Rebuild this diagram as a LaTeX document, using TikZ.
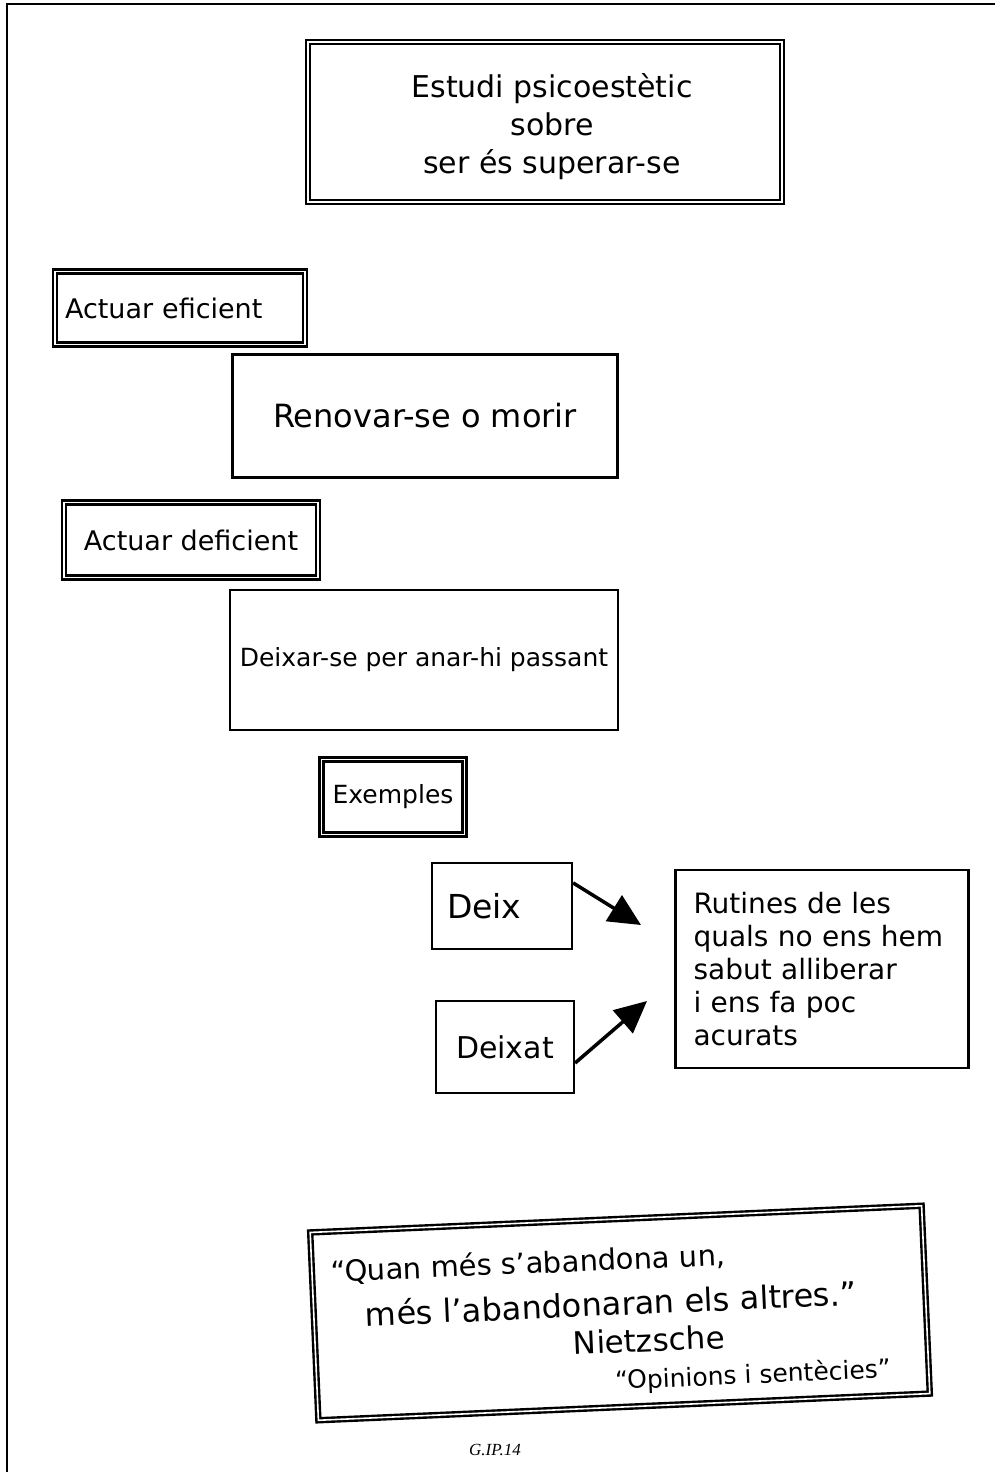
\documentclass[tikz,border=0pt]{standalone}
\usepackage{fontspec}
\setmainfont{DejaVu Sans}
\newfontfamily\serifit{Liberation Serif}
\usetikzlibrary{arrows.meta}
\begin{document}
\begin{tikzpicture}[x=1pt,y=-1pt,
  thickbox/.style={draw, line width=2.4pt, double, double distance=1.6pt, inner sep=0pt},
  thinbox/.style={draw, line width=2.2pt, inner sep=0pt},
  hand/.style={-{Triangle[length=32pt,width=30pt]}, line width=3.5pt},
  txt/.style={inner sep=0pt}
]
\useasboundingbox (0,0) rectangle (995,1472);
\coordinate (pgtop) at (995,4);
\coordinate (pgcorner) at (7,4);
\coordinate (pgbottom) at (7,1472);
\draw[line width=2pt] (pgtop) -- (pgcorner) -- (pgbottom);

% title
\node[thickbox, minimum width=474pt, minimum height=160pt] (title) at (545,122) {};
\node[txt, align=center, font=\fontsize{30}{38}\selectfont] (titletext) at (552,127)
      {Estudi psicoestètic\\sobre\\ser és superar-se};

% Actuar eficient
\node[thickbox, minimum width=250pt, minimum height=73pt, text width=230pt,
      inner xsep=10pt, align=left, font=\fontsize{27}{32}\selectfont] (eficient) at (180,308)
      {Actuar eficient};

% Renovar-se o morir
\node[thinbox, minimum width=385pt, minimum height=123pt,
      font=\fontsize{32}{38}\selectfont] (renovar) at (425,416)
      {Renovar-se o morir};

% Actuar deficient
\node[thickbox, minimum width=254pt, minimum height=75pt,
      font=\fontsize{27}{32}\selectfont] (deficient) at (191,540)
      {Actuar deficient};

% Deixar-se
\node[thinbox, minimum width=388pt, minimum height=140pt,
      font=\fontsize{25}{30}\selectfont] (deixarse) at (424,660)
      {Deixar-se per anar-hi passant};

% Exemples
\node[thickbox, minimum width=143pt, minimum height=75pt,
      font=\fontsize{25}{30}\selectfont] (exemples) at (393,797)
      {Exemples};

% Deix / Deixat
\node[thinbox, minimum width=140pt, minimum height=86pt, text width=110pt,
      inner xsep=15pt, align=left, font=\fontsize{33}{38}\selectfont] (deix) at (502,906)
      {Deix};
\node[thinbox, minimum width=138pt, minimum height=92pt,
      font=\fontsize{30}{36}\selectfont] (deixat) at (505,1047)
      {Deixat};

% Rutines
\node[thinbox, minimum width=293pt, minimum height=198pt, text width=257pt,
      inner xsep=18pt, align=left, font=\fontsize{28}{33}\selectfont] (rutines) at (822,969)
      {Rutines de les\\quals no ens hem\\sabut alliberar\\i ens fa poc\\acurats};

% arrows
\coordinate (tipa) at (641,925);
\coordinate (tipb) at (647,1001);
\draw[hand] ([yshift=-21pt]deix.north east) -- (tipa);
\draw[hand] ([yshift=-16pt]deixat.east) -- (tipb);

% quote
\node[thickbox, rotate=2.5, minimum width=612pt, minimum height=188pt] (quote) at (620,1313) {};
\node[txt, rotate=2.5, font=\fontsize{29}{36}\selectfont] (q1) at (528,1264) {“Quan més s'abandona un,};
\node[txt, rotate=2.5, font=\fontsize{32}{36}\selectfont] (q2) at (611,1303) {més l'abandonaran els altres.”};
\node[txt, rotate=2.5, font=\fontsize{31}{36}\selectfont] (q3) at (649,1340) {Nietzsche};
\node[txt, rotate=2.5, font=\fontsize{25}{28}\selectfont] (q4) at (753,1376) {“Opinions i sentècies”};

% footer
\node[font=\serifit\itshape\fontsize{17}{20}\selectfont] (footer) at (495,1450) {G.IP.14};
\end{tikzpicture}
\end{document}
